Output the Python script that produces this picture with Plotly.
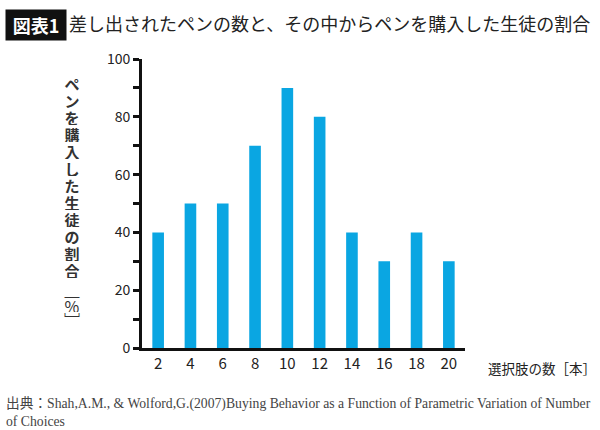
import plotly.graph_objects as go

# 選択肢の数 と 購入した生徒の割合
choices = [2, 4, 6, 8, 10, 12, 14, 16, 18, 20]
rates = [40, 50, 50, 70, 90, 80, 40, 30, 40, 30]
y_ticks = [0, 10, 20, 30, 40, 50, 60, 70, 80, 90, 100]
y_ticktext = ['0', '', '20', '', '40', '', '60', '', '80', '', '100']

title_tag = '図表1'
title_text = '差し出されたペンの数と、その中からペンを購入した生徒の割合'
y_title = 'ペンを購入した生徒の割合'
y_unit = ['﹇', '%', '﹈']
x_title = '選択肢の数［本］'
source_line1 = '出典：Shah,A.M., & Wolford,G.(2007)Buying Behavior as a Function of Parametric Variation of Number'
source_line2 = 'of Choices'

W, H = 600, 430
L, R, T, B = 142, 135, 59, 82
PW, PH = W - L - R, H - T - B


def px(x):
    return (x - L) / PW


def py(y):
    return (H - B - y) / PH


JP = 'Noto Sans CJK JP'
SERIF = 'Liberation Serif, ' + JP
fig = go.Figure()

fig.add_trace(go.Bar(
    x=choices,
    y=rates,
    width=0.72,
    marker=dict(color='#0aa6e2', line=dict(width=0)),
))

ann = []
ann.append(dict(x=px(5), y=py(9), xanchor='left', yanchor='top',
                text='<b>' + title_tag + '</b>', font=dict(family=JP, size=18, color='white'),
                bgcolor='#111111', borderpad=2, width=56))
ann.append(dict(x=px(67), y=py(23), xanchor='left', yanchor='middle',
                text=title_text, font=dict(family=JP, size=18, color='#222222')))
# 縦書きの軸タイトル（1文字ずつ配置）
for i, ch in enumerate(y_title):
    ann.append(dict(x=px(72), y=py(83 + i * 17), xanchor='center', yanchor='middle',
                    text='<b>' + ch + '</b>', height=16, width=18,
                    font=dict(family=JP, size=15, color='#333333')))
for i, ch in enumerate(y_unit):
    ann.append(dict(x=px(72), y=py(291 + i * 14), xanchor='center', yanchor='middle',
                    text=ch, height=13, width=18,
                    font=dict(family=JP, size=16, color='#333333')))
ann.append(dict(x=px(486), y=py(368), xanchor='left', yanchor='middle',
                text=x_title, font=dict(family=JP, size=13.5, color='#222222')))
ann.append(dict(x=px(4), y=py(404), xanchor='left', yanchor='middle',
                text=source_line1, font=dict(family=SERIF, size=13.7, color='#444444')))
ann.append(dict(x=px(4), y=py(421), xanchor='left', yanchor='middle',
                text=source_line2, font=dict(family=SERIF, size=13.7, color='#444444')))
for a in ann:
    a.update(xref='paper', yref='paper', showarrow=False)

fig.update_layout(
    width=W, height=H,
    margin=dict(l=L, r=R, t=T, b=B),
    plot_bgcolor='white',
    paper_bgcolor='white',
    showlegend=False,
    annotations=ann,
    xaxis=dict(
        range=[1, 21],
        tickvals=choices,
        showline=True, linewidth=3, linecolor='#111111',
        ticks='', showgrid=False, zeroline=False,
        tickfont=dict(family=JP, size=15, color='#222222'),
    ),
    yaxis=dict(
        range=[0, 100],
        tickvals=y_ticks, ticktext=y_ticktext,
        showline=True, linewidth=3, linecolor='#111111',
        ticks='outside', ticklen=6, tickwidth=2.5, tickcolor='#111111',
        showgrid=False, zeroline=False,
        tickfont=dict(family=JP, size=14, color='#222222'),
    ),
)

fig.write_html('out.html', config={'displayModeBar': False},
               post_script="document.body.style.margin='0';")
